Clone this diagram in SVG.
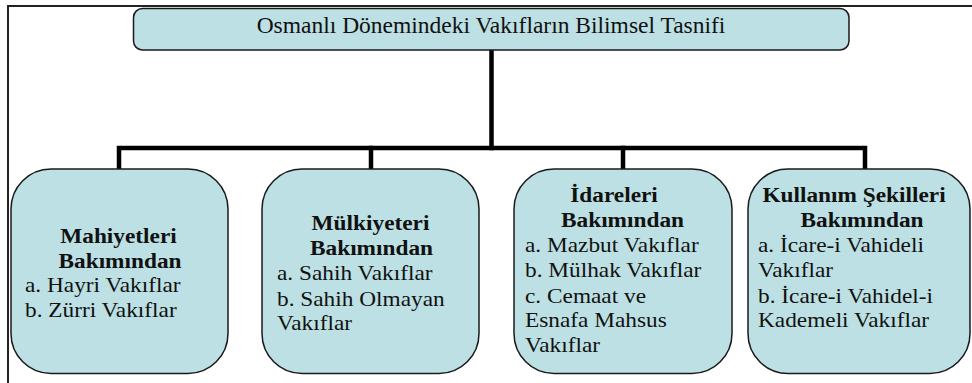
<svg xmlns="http://www.w3.org/2000/svg" width="972" height="383" viewBox="0 0 972 383">
<style>
.box{fill:#bce0e3;stroke:#1a1a1a;stroke-width:1.5}
.conn{stroke:#000;stroke-width:4.5;fill:none;stroke-linecap:square}
.frame{stroke:#222;stroke-width:2;fill:none}
text{font-family:"Liberation Serif","Times New Roman",serif;fill:#111}
.t{font-size:23.5px;text-anchor:middle}
.h{font-size:22px;font-weight:bold;text-anchor:middle}
.r{font-size:22px}
</style>
<rect width="972" height="383" fill="#fff"/>
<path class="frame" d="M8,383 V6 H972"/>
<g id="connectors">
<path class="conn" d="M491.5,50 V148"/>
<path class="conn" d="M119,169 V148 H865 V169"/>
<path class="conn" d="M371,148 V169"/>
<path class="conn" d="M623,148 V169"/>
</g>
<g id="root">
<rect class="box" x="133.5" y="8.5" width="715.5" height="41.5" rx="9"/>
<text class="t" x="491" y="32.7">Osmanlı Dönemindeki Vakıfların Bilimsel Tasnifi</text>
</g>
<g id="mahiyet">
<rect class="box" x="11" y="169" width="217" height="204.5" rx="40"/>
<text class="h" transform="translate(118.5,242.7) scale(1.06,1)">Mahiyetleri</text>
<text class="h" transform="translate(120,268) scale(1.06,1)">Bakımından</text>
<text class="r" transform="translate(25,291.7) scale(1.06,1)">a. Hayri Vakıflar</text>
<text class="r" transform="translate(25,316.7) scale(1.06,1)">b. Zürri Vakıflar</text>
</g>
<g id="mulkiyet">
<rect class="box" x="262" y="169" width="217" height="204.5" rx="40"/>
<text class="h" transform="translate(370.5,230) scale(1.06,1)">Mülkiyeteri</text>
<text class="h" transform="translate(371.5,255) scale(1.06,1)">Bakımından</text>
<text class="r" transform="translate(277,280) scale(1.06,1)">a. Sahih Vakıflar</text>
<text class="r" transform="translate(277,305.7) scale(1.06,1)">b. Sahih Olmayan</text>
<text class="r" transform="translate(277,330) scale(1.06,1)">Vakıflar</text>
</g>
<g id="idare">
<rect class="box" x="514" y="169" width="218" height="204.5" rx="40"/>
<text class="h" transform="translate(614,202.3) scale(1.06,1)">İdareleri</text>
<text class="h" transform="translate(622.5,227) scale(1.06,1)">Bakımından</text>
<text class="r" transform="translate(525,251.7) scale(1.06,1)">a. Mazbut Vakıflar</text>
<text class="r" transform="translate(525,277.3) scale(1.06,1)">b. Mülhak Vakıflar</text>
<text class="r" transform="translate(525,302.7) scale(1.06,1)">c. Cemaat ve</text>
<text class="r" transform="translate(525,327.3) scale(1.06,1)">Esnafa Mahsus</text>
<text class="r" transform="translate(525,352.3) scale(1.06,1)">Vakıflar</text>
</g>
<g id="kullanim">
<rect class="box" x="748" y="169" width="222" height="204.5" rx="40"/>
<text class="h" transform="translate(854,202.3) scale(1.06,1)">Kullanım Şekilleri</text>
<text class="h" transform="translate(862,227) scale(1.06,1)">Bakımından</text>
<text class="r" transform="translate(758,251.7) scale(1.06,1)">a. İcare-i Vahideli</text>
<text class="r" transform="translate(758,277.3) scale(1.06,1)">Vakıflar</text>
<text class="r" transform="translate(758,302.7) scale(1.06,1)">b. İcare-i Vahidel-i</text>
<text class="r" transform="translate(758,327.3) scale(1.06,1)">Kademeli Vakıflar</text>
</g>
</svg>
